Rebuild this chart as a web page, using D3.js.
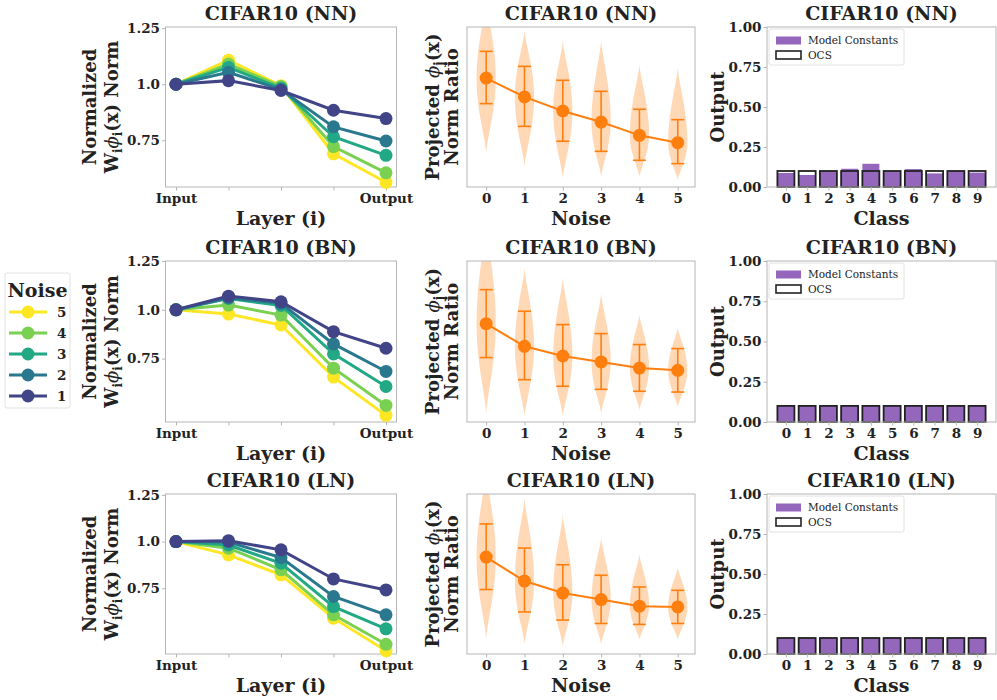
<!DOCTYPE html>
<html>
<head>
<meta charset="utf-8">
<script src="https://cdn.jsdelivr.net/npm/d3@7"></script>
<style>
  body { margin: 0; background: #fff; }
  svg text { font-family: "DejaVu Serif", serif; font-weight: bold; fill: #222; }
  svg text.light { font-weight: normal; }
</style>
</head>
<body>
<svg id="chart" width="997" height="700"></svg>
<script>
// ---------- data ----------
const rowTitles = ["CIFAR10 (NN)", "CIFAR10 (BN)", "CIFAR10 (LN)"];

// Layer-wise normalized norms, one row per noise level (5,4,3,2,1)
const layerLabels = ["Input", "", "", "", "Output"];
const noiseLevels = [5, 4, 3, 2, 1];
const noiseColors = ["#fde725", "#7ad151", "#22a884", "#2a788e", "#414487"];
const leftTicks = [0.75, 1.0, 1.25];
const leftTickLabels = ["0.75", "1.0", "1.25"];
const leftDomains = [[0.542, 1.255], [0.425, 1.25], [0.398, 1.255]];

const normNN = [
  [1.00, 1.107, 0.993, 0.690, 0.563],
  [1.00, 1.090, 0.990, 0.722, 0.605],
  [1.00, 1.075, 0.982, 0.766, 0.683],
  [1.00, 1.053, 0.976, 0.810, 0.747],
  [1.00, 1.016, 0.972, 0.884, 0.847]
];
const normBN = [
  [1.00, 0.978, 0.922, 0.655, 0.459],
  [1.00, 1.024, 0.973, 0.701, 0.510],
  [1.00, 1.058, 1.022, 0.774, 0.607],
  [1.00, 1.062, 1.033, 0.825, 0.684],
  [1.00, 1.070, 1.041, 0.888, 0.803]
];
const normLN = [
  [1.00, 0.929, 0.822, 0.590, 0.415],
  [1.00, 0.965, 0.849, 0.608, 0.450],
  [1.00, 0.982, 0.884, 0.652, 0.533],
  [1.00, 0.998, 0.914, 0.706, 0.608],
  [1.00, 1.005, 0.956, 0.800, 0.741]
];

// Projected norm ratio per noise level: mean, error-bar ends, distribution tails
const noiseTicks = [0, 1, 2, 3, 4, 5];
const ratioMeanNN = [0.681, 0.563, 0.475, 0.406, 0.323, 0.277];
const ratioLoNN   = [0.521, 0.379, 0.286, 0.223, 0.167, 0.146];
const ratioHiNN   = [0.848, 0.754, 0.667, 0.598, 0.486, 0.421];
const tailLoNN    = [0.21, 0.125, 0.05, 0.06, 0.06, 0.04];
const tailHiNN    = [1.17, 0.98, 0.92, 0.92, 0.77, 0.75];

const ratioMeanBN = [0.611, 0.470, 0.410, 0.373, 0.335, 0.321];
const ratioLoBN   = [0.400, 0.263, 0.222, 0.203, 0.191, 0.186];
const ratioHiBN   = [0.822, 0.688, 0.605, 0.549, 0.481, 0.456];
const tailLoBN    = [0.05, 0.03, 0.03, 0.05, 0.07, 0.09];
const tailHiBN    = [1.25, 0.96, 0.90, 0.80, 0.67, 0.59];

const ratioMeanLN = [0.606, 0.456, 0.381, 0.340, 0.299, 0.294];
const ratioLoLN   = [0.403, 0.263, 0.212, 0.191, 0.185, 0.191];
const ratioHiLN   = [0.813, 0.662, 0.558, 0.492, 0.419, 0.398];
const tailLoLN    = [0.09, 0.06, 0.045, 0.056, 0.087, 0.087];
const tailHiLN    = [1.15, 0.98, 0.875, 0.73, 0.627, 0.543];

// Output per class
const classes = [0, 1, 2, 3, 4, 5, 6, 7, 8, 9];
const outputTicks = [0, 0.25, 0.5, 0.75, 1.0];
const modelNN = [0.088, 0.075, 0.100, 0.114, 0.145, 0.100, 0.112, 0.085, 0.100, 0.090];
const modelBN = [0.1, 0.1, 0.1, 0.1, 0.1, 0.1, 0.1, 0.1, 0.1, 0.1];
const modelLN = [0.1, 0.1, 0.1, 0.1, 0.1, 0.1, 0.1, 0.1, 0.1, 0.1];
const ocsNN = [0.1, 0.1, 0.1, 0.1, 0.1, 0.1, 0.1, 0.1, 0.1, 0.1];
const ocsBN = [0.1, 0.1, 0.1, 0.1, 0.1, 0.1, 0.1, 0.1, 0.1, 0.1];
const ocsLN = [0.1, 0.1, 0.1, 0.1, 0.1, 0.1, 0.1, 0.1, 0.1, 0.1];

// ---------- layout ----------
const svg = d3.select("#chart");
const rowBands = [[27, 187], [261, 422], [494, 654]];
const colLeft = [165.5, 396.5], colMid = [467, 695], colRight = [767, 996];
const frameColor = "#b5b5b5";
const orange = "#ff7f0e";
const purple = "#9467bd";
const tickFont = 13.5, labelFont = 19, titleFont = 19;

const normRows = [normNN, normBN, normLN];
const ratioRows = [
  { mean: ratioMeanNN, lo: ratioLoNN, hi: ratioHiNN, tlo: tailLoNN, thi: tailHiNN },
  { mean: ratioMeanBN, lo: ratioLoBN, hi: ratioHiBN, tlo: tailLoBN, thi: tailHiBN },
  { mean: ratioMeanLN, lo: ratioLoLN, hi: ratioHiLN, tlo: tailLoLN, thi: tailHiLN }
];
const barRows = [
  { model: modelNN, ocs: ocsNN },
  { model: modelBN, ocs: ocsBN },
  { model: modelLN, ocs: ocsLN }
];

const defs = svg.append("defs");

function styleAxis(g) {
  g.select(".domain").remove();
  g.selectAll(".tick line").attr("stroke", frameColor);
  g.selectAll(".tick text").attr("font-size", tickFont).attr("fill", "#222")
    .style("font-family", "DejaVu Serif").style("font-weight", "bold");
}

function drawFrame(g, x0, x1, y0, y1) {
  g.append("rect").attr("x", x0).attr("y", y0)
    .attr("width", x1 - x0).attr("height", y1 - y0)
    .attr("fill", "none").attr("stroke", frameColor).attr("stroke-width", 1);
}

function drawTitle(g, x0, x1, y0, text) {
  g.append("text").attr("x", (x0 + x1) / 2).attr("y", y0 - 7)
    .attr("text-anchor", "middle").attr("font-size", titleFont).text(text);
}

function drawXLabel(g, x0, x1, y1, text) {
  g.append("text").attr("x", (x0 + x1) / 2).attr("y", y1 + 38)
    .attr("text-anchor", "middle").attr("font-size", labelFont).text(text);
}

function yLabelLine(g, x, cy) {
  return g.append("text")
    .attr("transform", `translate(${x},${cy}) rotate(-90)`)
    .attr("text-anchor", "middle").attr("dy", "0.35em")
    .attr("font-size", 18);
}

function sub(t, s) {
  t.append("tspan").attr("font-size", 12).attr("dy", 4).text(s);
}

rowBands.forEach(([y0, y1], r) => {
  const cy = (y0 + y1) / 2;

  // ----- layer-wise norm panel -----
  {
    const g = svg.append("g");
    const x = d3.scaleLinear().domain([-0.2, 4.2]).range(colLeft);
    const y = d3.scaleLinear().domain(leftDomains[r]).range([y1, y0]);
    drawFrame(g, colLeft[0], colLeft[1], y0, y1);
    g.append("g").attr("transform", `translate(0,${y1})`)
      .call(d3.axisBottom(x).tickValues([0, 1, 2, 3, 4])
        .tickFormat((d, i) => layerLabels[i]).tickSize(3.5).tickPadding(3))
      .call(styleAxis);
    g.append("g").attr("transform", `translate(${colLeft[0]},0)`)
      .call(d3.axisLeft(y).tickValues(leftTicks)
        .tickFormat((d, i) => leftTickLabels[i]).tickSize(3.5).tickPadding(2))
      .call(styleAxis);

    const line = d3.line().x((d, j) => x(j)).y(d => y(d));
    normRows[r].forEach((vals, i) => {
      g.append("path").datum(vals).attr("d", line)
        .attr("fill", "none").attr("stroke", noiseColors[i]).attr("stroke-width", 3);
      g.selectAll(null).data(vals).enter().append("circle")
        .attr("cx", (d, j) => x(j)).attr("cy", d => y(d)).attr("r", 6.5)
        .attr("fill", noiseColors[i]);
    });

    drawTitle(g, colLeft[0], colLeft[1], y0, rowTitles[r]);
    drawXLabel(g, colLeft[0], colLeft[1], y1, "Layer (i)");
    yLabelLine(g, 90, cy).text("Normalized");
    const t2 = yLabelLine(g, 112, cy);
    t2.append("tspan").text("W");
    sub(t2, "i");
    t2.append("tspan").attr("dy", -4).attr("font-style", "italic").attr("font-weight", "normal").text("ϕ");
    sub(t2, "i");
    t2.append("tspan").attr("dy", -4).text("(x) Norm");
  }

  // ----- projected norm ratio panel -----
  {
    const g = svg.append("g");
    const x = d3.scaleLinear().domain([-0.5, 5.45]).range(colMid);
    const y = d3.scaleLinear().domain([0, 1]).range([y1, y0]);
    const clipId = "clipMid" + r;
    defs.append("clipPath").attr("id", clipId).append("rect")
      .attr("x", colMid[0]).attr("y", y0).attr("width", colMid[1] - colMid[0]).attr("height", y1 - y0);
    const d = ratioRows[r];
    const halfW = x(0.25) - x(0);
    const vg = g.append("g").attr("clip-path", `url(#${clipId})`);
    noiseTicks.forEach((k, i) => {
      const mode = d.mean[i], lo = d.tlo[i], hi = d.thi[i];
      const steps = d3.range(0, 1.0001, 0.025);
      const pts = steps.map(s => lo + (mode - lo) * s)
        .concat(steps.slice(1).map(s => mode + (hi - mode) * s));
      const width = v => {
        const t = v < mode ? (mode - v) / (mode - lo) : (v - mode) / (hi - mode);
        return halfW * Math.pow(Math.max(0, 1 - t * t), 1.5);
      };
      const area = d3.area()
        .y(v => y(v)).x0(v => x(k) - width(v)).x1(v => x(k) + width(v))
        .curve(d3.curveBasis);
      vg.append("path").datum(pts).attr("d", area)
        .attr("fill", orange).attr("fill-opacity", 0.3);
    });
    noiseTicks.forEach((k, i) => {
      g.append("line").attr("x1", x(k)).attr("x2", x(k))
        .attr("y1", y(d.lo[i])).attr("y2", y(d.hi[i]))
        .attr("stroke", orange).attr("stroke-width", 1.6);
      [d.lo[i], d.hi[i]].forEach(v => {
        g.append("line").attr("x1", x(k) - 6.5).attr("x2", x(k) + 6.5)
          .attr("y1", y(v)).attr("y2", y(v))
          .attr("stroke", orange).attr("stroke-width", 1.6);
      });
    });
    g.append("path").datum(d.mean)
      .attr("d", d3.line().x((v, i) => x(noiseTicks[i])).y(v => y(v)))
      .attr("fill", "none").attr("stroke", orange).attr("stroke-width", 2);
    g.selectAll(null).data(d.mean).enter().append("circle")
      .attr("cx", (v, i) => x(noiseTicks[i])).attr("cy", v => y(v)).attr("r", 6.5)
      .attr("fill", orange);

    drawFrame(g, colMid[0], colMid[1], y0, y1);
    g.append("g").attr("transform", `translate(0,${y1})`)
      .call(d3.axisBottom(x).tickValues(noiseTicks).tickFormat(d3.format("d"))
        .tickSize(3.5).tickPadding(3))
      .call(styleAxis);

    drawTitle(g, colMid[0], colMid[1], y0, rowTitles[r]);
    drawXLabel(g, colMid[0], colMid[1], y1, "Noise");
    const t1 = yLabelLine(g, 433, cy);
    t1.append("tspan").text("Projected ");
    t1.append("tspan").attr("font-style", "italic").attr("font-weight", "normal").text("ϕ");
    sub(t1, "j");
    t1.append("tspan").attr("dy", -4).text("(x)");
    yLabelLine(g, 452, cy).text("Norm Ratio");
  }

  // ----- output per class panel -----
  {
    const g = svg.append("g");
    const x = d3.scaleLinear().domain([-0.89, 9.89]).range(colRight);
    const y = d3.scaleLinear().domain([0, 1]).range([y1, y0]);
    const b = barRows[r];
    const bw = x(0.4) - x(0);
    g.selectAll(null).data(b.model).enter().append("rect")
      .attr("x", (v, i) => x(classes[i]) - bw).attr("width", 2 * bw)
      .attr("y", v => y(v)).attr("height", v => y(0) - y(v))
      .attr("fill", purple);
    g.selectAll(null).data(b.ocs).enter().append("rect")
      .attr("x", (v, i) => x(classes[i]) - bw).attr("width", 2 * bw)
      .attr("y", v => y(v)).attr("height", v => y(0) - y(v))
      .attr("fill", "none").attr("stroke", "#222").attr("stroke-width", 1.8);

    drawFrame(g, colRight[0], colRight[1], y0, y1);
    g.append("g").attr("transform", `translate(0,${y1})`)
      .call(d3.axisBottom(x).tickValues(classes).tickFormat(d3.format("d"))
        .tickSize(3.5).tickPadding(3))
      .call(styleAxis);
    g.append("g").attr("transform", `translate(${colRight[0]},0)`)
      .call(d3.axisLeft(y).tickValues(outputTicks).tickFormat(d3.format(".2f"))
        .tickSize(3.5).tickPadding(2))
      .call(styleAxis);

    // legend
    const lx = colRight[0] + 2, ly = y0 + 2;
    g.append("rect").attr("x", lx).attr("y", ly).attr("width", 135).attr("height", 36)
      .attr("fill", "#fff").attr("fill-opacity", 0.85)
      .attr("stroke", "#e2e2e2").attr("rx", 2);
    g.append("rect").attr("x", lx + 7).attr("y", ly + 7.5).attr("width", 25).attr("height", 8)
      .attr("fill", purple);
    g.append("rect").attr("x", lx + 7).attr("y", ly + 22).attr("width", 25).attr("height", 8)
      .attr("fill", "none").attr("stroke", "#222").attr("stroke-width", 1.6);
    g.append("text").attr("class", "light").attr("x", lx + 39).attr("y", ly + 11.5).attr("dy", "0.35em")
      .attr("font-size", 10.5).text("Model Constants");
    g.append("text").attr("class", "light").attr("x", lx + 39).attr("y", ly + 26).attr("dy", "0.35em")
      .attr("font-size", 10.5).text("OCS");

    drawTitle(g, colRight[0], colRight[1], y0, rowTitles[r]);
    drawXLabel(g, colRight[0], colRight[1], y1, "Class");
    yLabelLine(g, 718, cy).text("Output");
  }
});

// ----- noise legend -----
{
  const g = svg.append("g");
  g.append("rect").attr("x", 5).attr("y", 273).attr("width", 65).attr("height", 135)
    .attr("fill", "#fff").attr("stroke", "#e2e2e2").attr("rx", 2);
  g.append("text").attr("x", 37.5).attr("y", 297).attr("text-anchor", "middle")
    .attr("font-size", 19).text("Noise");
  noiseLevels.forEach((n, i) => {
    const yy = 312 + i * 21;
    g.append("line").attr("x1", 9).attr("x2", 47).attr("y1", yy).attr("y2", yy)
      .attr("stroke", noiseColors[i]).attr("stroke-width", 3);
    g.append("circle").attr("cx", 28).attr("cy", yy).attr("r", 6.5).attr("fill", noiseColors[i]);
    g.append("text").attr("x", 57).attr("y", yy).attr("dy", "0.35em")
      .attr("font-size", 13.5).text(n);
  });
}
</script>
</body>
</html>
